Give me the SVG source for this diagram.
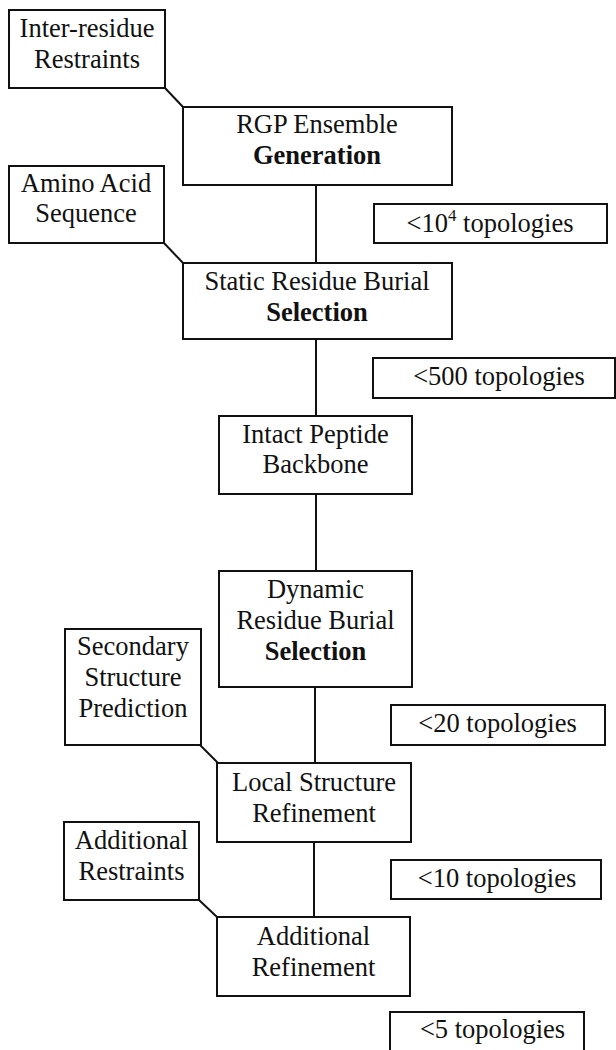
<svg xmlns="http://www.w3.org/2000/svg" width="616" height="1050" viewBox="0 0 616 1050">
<style>
.box{fill:#fff;stroke:#111;stroke-width:2}
.ln{stroke:#111;stroke-width:2;fill:none}
text{font-family:'Liberation Serif','DejaVu Serif',serif;font-size:26.5px;fill:#111;text-anchor:middle}
.b{font-weight:bold}
</style>
<rect width="616" height="1050" fill="#fff"/>
<g id="connectors">
<line class="ln" x1="165" y1="88" x2="183" y2="107"/>
<line class="ln" x1="316" y1="185" x2="316" y2="263"/>
<line class="ln" x1="164" y1="243" x2="183" y2="263"/>
<line class="ln" x1="316" y1="339" x2="316" y2="416"/>
<line class="ln" x1="316" y1="494" x2="316" y2="571"/>
<line class="ln" x1="315" y1="687" x2="315" y2="763"/>
<line class="ln" x1="200" y1="745" x2="218" y2="763"/>
<line class="ln" x1="314" y1="842" x2="314" y2="917"/>
<line class="ln" x1="199" y1="900" x2="217" y2="917"/>
</g>
<g id="inter-residue">
<rect class="box" x="9" y="10" width="156" height="78"/>
<text x="87" y="37">Inter-residue</text>
<text x="87" y="68">Restraints</text>
</g>
<g id="rgp">
<rect class="box" x="183" y="107" width="269" height="78"/>
<text x="317" y="133">RGP Ensemble</text>
<text x="317" y="164" class="b">Generation</text>
</g>
<g id="t1">
<rect class="box" x="374" y="204" width="233" height="39"/>
<text x="490" y="232">&lt;10<tspan font-size="17" dy="-11">4</tspan><tspan dy="11"> topologies</tspan></text>
</g>
<g id="amino">
<rect class="box" x="9" y="166" width="155" height="77"/>
<text x="86" y="192">Amino Acid</text>
<text x="86" y="222">Sequence</text>
</g>
<g id="static">
<rect class="box" x="183" y="263" width="269" height="76"/>
<text x="317" y="290">Static Residue Burial</text>
<text x="317" y="321" class="b">Selection</text>
</g>
<g id="t2">
<rect class="box" x="373" y="358" width="242" height="40"/>
<text x="499" y="385">&lt;500 topologies</text>
</g>
<g id="intact">
<rect class="box" x="219" y="416" width="193" height="78"/>
<text x="315.5" y="443">Intact Peptide</text>
<text x="315.5" y="473">Backbone</text>
</g>
<g id="dynamic">
<rect class="box" x="219" y="571" width="193" height="116"/>
<text x="315.5" y="598">Dynamic</text>
<text x="315.5" y="629">Residue Burial</text>
<text x="315.5" y="660" class="b">Selection</text>
</g>
<g id="secondary">
<rect class="box" x="65" y="629" width="136" height="116"/>
<text x="133" y="655">Secondary</text>
<text x="133" y="686">Structure</text>
<text x="133" y="717">Prediction</text>
</g>
<g id="t3">
<rect class="box" x="391" y="705" width="214" height="40"/>
<text x="497.5" y="732">&lt;20 topologies</text>
</g>
<g id="local">
<rect class="box" x="217" y="763" width="194" height="79"/>
<text x="314" y="791">Local Structure</text>
<text x="314" y="822">Refinement</text>
</g>
<g id="t4">
<rect class="box" x="391" y="860" width="210" height="39"/>
<text x="497" y="887">&lt;10 topologies</text>
</g>
<g id="add-restraints">
<rect class="box" x="64" y="822" width="135" height="78"/>
<text x="131.5" y="849">Additional</text>
<text x="131.5" y="880">Restraints</text>
</g>
<g id="add-refinement">
<rect class="box" x="217" y="917" width="193" height="79"/>
<text x="313.5" y="945">Additional</text>
<text x="313.5" y="976">Refinement</text>
</g>
<g id="t5">
<rect class="box" x="390" y="1012" width="194" height="50"/>
<text x="492.5" y="1038">&lt;5 topologies</text>
</g>
</svg>
